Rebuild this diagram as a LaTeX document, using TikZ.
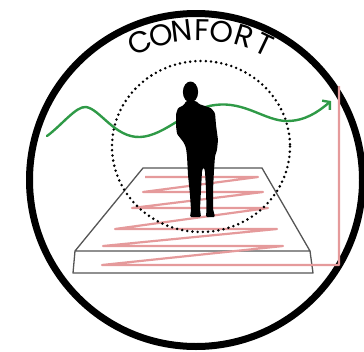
\documentclass[tikz,border=0pt]{standalone}
\usepackage{fontspec}
\newfontfamily\titlefont{Poppins}
\usetikzlibrary{arrows.meta}
\definecolor{wavegreen}{HTML}{2F9A47}
\definecolor{pipepink}{HTML}{E59A9B}
\definecolor{slabgray}{HTML}{555555}
\begin{document}
\begin{tikzpicture}[x=1pt,y=-1pt,line join=round,
  ring/.style={draw=black,line width=7pt},
  halo/.style={draw=black,line width=2.8pt,line cap=round,dash pattern=on 0pt off 5.2pt},
  slab/.style={draw=slabgray,line width=1.3pt},
  pipe/.style={draw=pipepink,line width=2.2pt},
  wave/.style={draw=wavegreen,line width=2.4pt,line cap=round,-{Straight Barb[length=5pt,width=12pt]}},
  letter/.style={font=\titlefont\fontsize{30}{30}\selectfont,inner sep=0pt}]
\useasboundingbox (0,0) rectangle (364,351);

% outer ring
\draw[ring] (196,180) circle[radius=166.5];

% floor slab
\draw[slab] (143,168) -- (262,168) -- (310,251) -- (75,251) -- cycle;
\draw[slab] (75,251) -- (73,273) -- (313,273) -- (310,251);

% heating pipe coil and its riser
\draw[pipe] (145,177) -- (258,177) -- (143,192) -- (263,192) -- (132,208)
  -- (268,208) -- (115,229) -- (277,229) -- (103,246) -- (283,246)
  -- (102,265) -- (339,265) -- (339,86);

% comfort zone around the occupant
\draw[halo] (201,146.5) ellipse[x radius=89,y radius=85.5];

% air flow
\draw[wave] (47,136) .. controls (62,125) and (76,106) .. (86,107)
  .. controls (100,109) and (115,138) .. (140,137)
  .. controls (165,136) and (188,108) .. (215,105)
  .. controls (245,101) and (265,121) .. (287,121)
  .. controls (305,121) and (318,112) .. (331,101);

% occupant
\fill[black,rounded corners=1.2pt] (186,101) -- (184,105) -- (178,108) -- (176,114)
  -- (176,126) -- (177,134) -- (181,139) -- (184,143) -- (186,148) -- (187,156)
  -- (188,175) -- (190,195) -- (191,210) -- (190,217) -- (201,217) -- (200,209)
  -- (201,190) -- (202,171) -- (203.5,167) -- (205,171) -- (206,190) -- (206.5,209)
  -- (206,217) -- (215,217) -- (213,209) -- (213,190) -- (214,170) -- (215,156)
  -- (217,150) -- (218,140) -- (216,125) -- (215,113) -- (211,108) -- (199,104)
  -- (196,101) -- cycle;
\fill[black] (190.5,92) ellipse[x radius=7.6,y radius=10.5];

% title set along the arc
\foreach \a/\l in {113.5/C,105/O,97/N,89.2/F,81.5/O,73/R,64.5/T}
  \node[letter,rotate=\a-90] at ({200+150*cos(\a)},{180-150*sin(\a)}) {\l};
\end{tikzpicture}
\end{document}
